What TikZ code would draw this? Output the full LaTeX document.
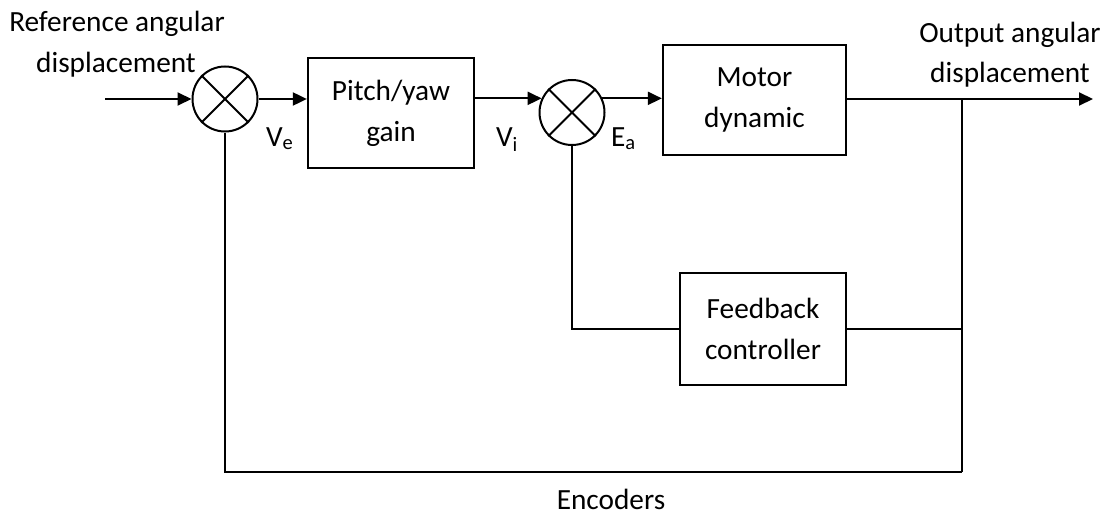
\documentclass[tikz,border=0pt]{standalone}
\usepackage{fontspec}
\setmainfont{Carlito}
\usetikzlibrary{arrows.meta}
\begin{document}
\begin{tikzpicture}[x=1pt,y=-1pt,line width=2pt,
  txt/.style={font=\fontsize{29.3}{41}\selectfont, inner sep=0pt},
  blk/.style={draw, line width=2.3pt, inner sep=0pt, align=center, font=\fontsize{29.3}{41}\selectfont},
  sumj/.style={draw, circle, minimum size=65pt, inner sep=0pt, line width=2pt},
  arr/.style={-{Triangle[length=14pt,width=13pt]}}
]
\useasboundingbox (0,0) rectangle (1107,516);
% junctions and blocks
\node[sumj] (s1) at (225,99) {};
\draw (s1.north west) -- (s1.south east) (s1.north east) -- (s1.south west);
\node[sumj] (s2) at (572,112.5) {};
\draw (s2.north west) -- (s2.south east) (s2.north east) -- (s2.south west);
\node[blk, minimum width=166pt, minimum height=110pt] (pitch) at (391,113) {Pitch/yaw\\gain};
\node[blk, minimum width=183pt, minimum height=110pt] (motor) at (754.5,100) {Motor\\dynamic};
\node[blk, minimum width=166pt, minimum height=112pt] (fb) at (763,329) {Feedback\\controller};
% coordinates
\coordinate (in) at (105,99);
\coordinate (tap) at (962,99);
\coordinate (out) at (1093,99);
\coordinate (bot) at (962,472);
% connectors
\draw[arr] (in) -- (s1.west);
\draw[arr] (s1.east) -- (s1.east -| pitch.west);
\draw[arr] (s2.155 -| pitch.east) -- (s2.155);
\draw[arr] (s2.25) -- (s2.25 -| motor.west);
\draw[arr] (motor.east |- tap) -- (out);
\draw (tap) -- (bot);
\draw (fb.east) -- (fb.east -| tap);
\draw (fb.west) -| (s2.south);
\draw (bot) -| (s1.south);
% labels
\node[txt, anchor=base] (ref1) at (117,32) {Reference angular};
\node[txt, anchor=base] (ref2) at (116,73) {displacement};
\node[txt, anchor=base] (out1) at (1010,43) {Output angular};
\node[txt, anchor=base] (out2) at (1010,83) {displacement};
\node[txt, anchor=base west] (ve) at (265,146) {V\textsubscript{e}};
\node[txt, anchor=base west] (vi) at (495,146) {V\textsubscript{i}};
\node[txt, anchor=base west] (ea) at (610,146) {E\textsubscript{a}};
\node[txt, anchor=base] (enc) at (611,509) {Encoders};
\end{tikzpicture}
\end{document}
